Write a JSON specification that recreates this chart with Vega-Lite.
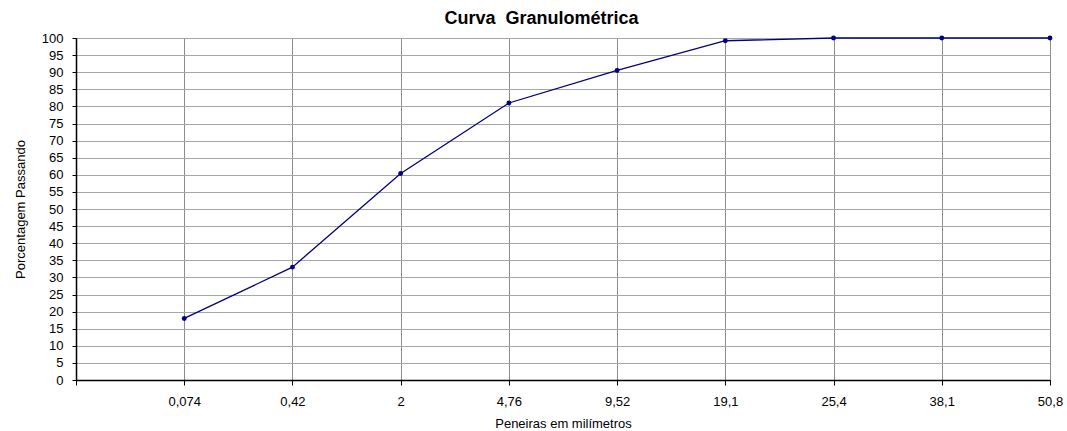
{
  "$schema": "https://vega.github.io/schema/vega-lite/v6.json",
  "width": 974,
  "height": 342,
  "autosize": {"type": "none"},
  "padding": {"left": 76, "top": 38, "right": 17, "bottom": 51},
  "background": "white",
  "config": {
    "font": "Liberation Sans",
    "view": {"stroke": "#000000", "strokeWidth": 1}
  },
  "title": {
    "text": "Curva \u00a0Granulométrica",
    "font": "Liberation Sans",
    "fontSize": 18,
    "fontWeight": "bold",
    "color": "#000000",
    "anchor": "middle",
    "frame": "bounds",
    "dx": 3,
    "offset": 4
  },
  "data": {
    "values": [
      {"peneira": "0,074", "passando": 18},
      {"peneira": "0,42", "passando": 33},
      {"peneira": "2", "passando": 60.4},
      {"peneira": "4,76", "passando": 81},
      {"peneira": "9,52", "passando": 90.5},
      {"peneira": "19,1", "passando": 99.2},
      {"peneira": "25,4", "passando": 100},
      {"peneira": "38,1", "passando": 100},
      {"peneira": "50,8", "passando": 100}
    ]
  },
  "encoding": {
    "x": {
      "field": "peneira",
      "type": "ordinal",
      "sort": null,
      "scale": {
        "type": "point",
        "domain": ["", "0,074", "0,42", "2", "4,76", "9,52", "19,1", "25,4", "38,1", "50,8"],
        "padding": 0
      },
      "axis": {
        "title": "Peneiras em milímetros",
        "titleFont": "Liberation Sans",
        "titleFontSize": 13,
        "titleFontWeight": "normal",
        "titleColor": "#000000",
        "titlePadding": 9,
        "labelAngle": 0,
        "labelFont": "Liberation Sans",
        "labelFontSize": 13,
        "labelColor": "#000000",
        "labelPadding": 10,
        "domainColor": "#000000",
        "domainWidth": 1.5,
        "tickColor": "#000000",
        "tickSize": 5,
        "grid": true,
        "gridColor": "#8c8c8c",
        "gridWidth": 1
      }
    },
    "y": {
      "field": "passando",
      "type": "quantitative",
      "scale": {"domain": [0, 100], "nice": false},
      "axis": {
        "title": "Porcentagem Passando",
        "titleFont": "Liberation Sans",
        "titleFontSize": 13,
        "titleFontWeight": "normal",
        "titleColor": "#000000",
        "titlePadding": 14,
        "values": [0,5,10,15,20,25,30,35,40,45,50,55,60,65,70,75,80,85,90,95,100],
        "labelFont": "Liberation Sans",
        "labelFontSize": 13,
        "labelColor": "#000000",
        "labelPadding": 9,
        "domainColor": "#000000",
        "domainWidth": 1.5,
        "tickColor": "#000000",
        "tickSize": 4,
        "grid": true,
        "gridColor": "#a6a6a6",
        "gridWidth": 1
      }
    }
  },
  "layer": [
    {"mark": {"type": "line", "color": "#000080", "strokeWidth": 1.3}},
    {"mark": {"type": "point", "filled": true, "color": "#000080", "size": 24, "opacity": 1}}
  ]
}
